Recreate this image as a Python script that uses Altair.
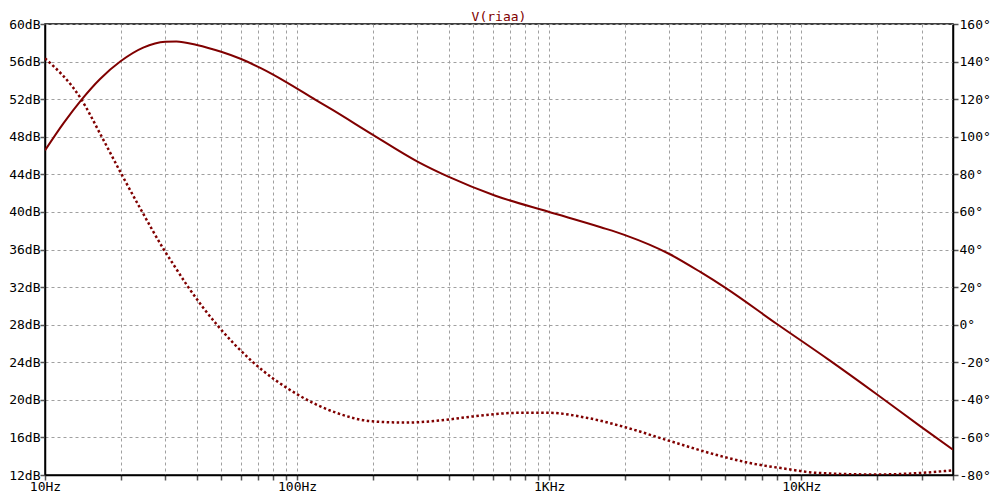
import altair as alt
import pandas as pd

# Magnitude trace (solid, left axis, dB)
mag_freq = [10, 11.85, 13.92, 16.54, 20.0, 24.52, 30.0, 33.2, 40.0, 50.0, 60.0, 71.8,
            90.2, 118.4, 137.8, 200, 303, 398, 608, 987, 1602, 2000, 3000, 3977, 4990,
            7982, 12960, 19810, 29810, 40000]
mag_db = [46.55, 49.45, 51.90, 54.15, 56.06, 57.49, 58.12, 58.15, 57.77, 57.04, 56.27,
          55.30, 53.85, 51.93, 50.88, 48.20, 45.30, 43.75, 41.75, 40.04, 38.37, 37.53,
          35.52, 33.61, 31.94, 28.10, 24.20, 20.65, 17.15, 14.70]

# Phase trace (dotted, right axis, degrees)
ph_freq = [10, 13.92, 16.79, 20.13, 24.3, 29.6, 32.7, 36.9, 48.5, 66.6, 100.3, 142, 198.3,
           268.3, 403.9, 499.5, 774.6, 987, 1420, 2000, 3000, 4768, 6263, 8768, 11480,
           19810, 30250, 40000]
ph_deg = [141.7, 120.0, 100.0, 80.0, 60.0, 40.0, 30.97, 20.23, -0.63, -19.77, -37.13,
          -46.73, -51.42, -52.10, -50.38, -48.81, -46.88, -46.88, -49.65, -54.55, -61.85,
          -69.83, -73.64, -76.77, -78.85, -79.74, -78.85, -77.50]

x_ticks = [10, 20, 30, 40, 50, 60, 70, 80, 90,
           100, 200, 300, 400, 500, 600, 700, 800, 900,
           1000, 2000, 3000, 4000, 5000, 6000, 7000, 8000, 9000,
           10000, 20000, 30000, 40000]
db_ticks = list(range(12, 61, 4))
deg_ticks = list(range(-80, 161, 20))

mag_df = pd.DataFrame({"f": mag_freq, "v": mag_db})
ph_df = pd.DataFrame({"f": ph_freq, "v": ph_deg})

FONT = "DejaVu Sans Mono"
TRACE = "#800000"
FS = 13

x_label_expr = ("datum.value == 10 ? '10Hz' : datum.value == 100 ? '100Hz' : "
                "datum.value == 1000 ? '1KHz' : datum.value == 10000 ? '10KHz' : ''")

x_axis = alt.Axis(values=x_ticks, labelExpr=x_label_expr, grid=True, gridDash=[3, 3],
                  gridColor="#a0a0a0", gridWidth=1, tickSize=5, tickColor="#555555",
                  tickWidth=1.5, domainColor="black", domainWidth=1.5, labelFont=FONT,
                  labelFontSize=FS, labelColor="black", labelPadding=0,
                  labelFlush=False, labelOverlap=False)

x_enc = alt.X("f:Q", title=None,
              scale=alt.Scale(type="log", domain=[10, 40000], nice=False),
              axis=x_axis)

mag = alt.Chart(mag_df).mark_line(color=TRACE, strokeWidth=2, interpolate="monotone",
                                  clip=True).encode(
    x=x_enc,
    y=alt.Y("v:Q", title=None, scale=alt.Scale(domain=[12, 60], nice=False, zero=False),
            axis=alt.Axis(orient="left", values=db_ticks, labelExpr="datum.value + 'dB'",
                          grid=True, gridDash=[3, 3], gridColor="#a0a0a0", gridWidth=1,
                          tickSize=5, tickColor="#555555", tickWidth=1.5,
                          domainColor="black", domainWidth=1.5, labelFont=FONT,
                          labelFontSize=FS, labelColor="black", labelPadding=0,
                          labelFlush=False, labelOverlap=False)),
)

phase = alt.Chart(ph_df).mark_line(color=TRACE, strokeWidth=2.5, strokeDash=[2.5, 2.5],
                                   interpolate="monotone", clip=True).encode(
    x=x_enc,
    y=alt.Y("v:Q", title=None, scale=alt.Scale(domain=[-80, 160], nice=False, zero=False),
            axis=alt.Axis(orient="right", values=deg_ticks, labelExpr="datum.value + '°'",
                          grid=False, tickSize=5, tickColor="#555555", tickWidth=1.5,
                          domainColor="black", domainWidth=1.5, labelFont=FONT,
                          labelFontSize=FS, labelColor="black", labelPadding=1,
                          labelFlush=False, labelOverlap=False)),
)

chart = alt.layer(mag, phase).resolve_scale(y="independent").properties(
    width=908, height=451,
    autosize=alt.AutoSizeParams(type="none"),
    padding={"left": 37, "top": 16, "right": 39, "bottom": 17},
    title=alt.TitleParams("V(riaa)", font=FONT, fontSize=FS, fontWeight="normal",
                          color=TRACE, offset=1, dy=7, anchor="middle", frame="group"),
    background="white",
).configure_view(stroke="black", strokeWidth=1.5)

chart.save("out.html", embed_options={"renderer": "svg", "actions": False})
